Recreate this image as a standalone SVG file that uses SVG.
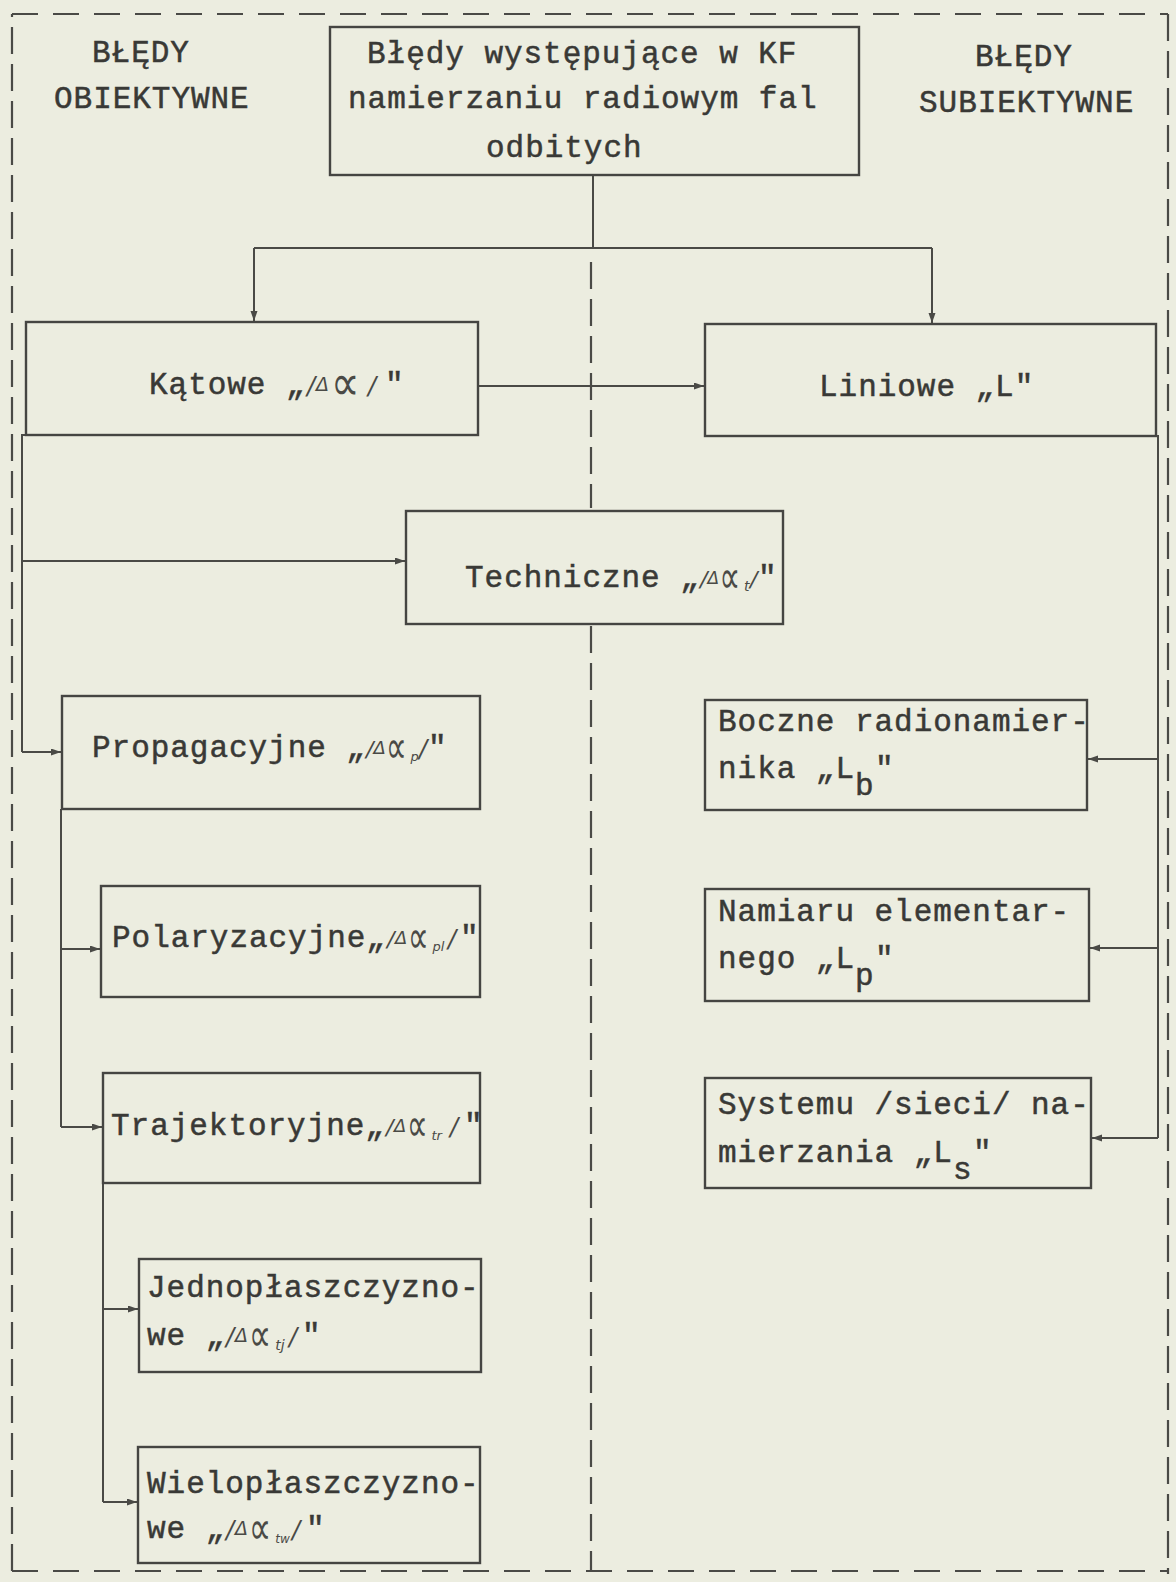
<svg xmlns="http://www.w3.org/2000/svg" width="1176" height="1582" viewBox="0 0 1176 1582">
<style>
.t{font-family:"Liberation Mono","Courier New",monospace;font-size:31px;letter-spacing:0.96px;fill:#393936;stroke:#393936;stroke-width:0.5}
.h{font-family:"DejaVu Sans",sans-serif;font-style:italic;fill:#4a4a46}
.box{fill:none;stroke:#454542;stroke-width:2.4}
.ln{fill:none;stroke:#4a4a46;stroke-width:2}
.arr{fill:none;stroke:#4a4a46;stroke-width:2;marker-end:url(#ah)}
.dv{fill:none;stroke:#4a4a46;stroke-width:2.2;stroke-dasharray:27 10}
.dh{fill:none;stroke:#4a4a46;stroke-width:2.2;stroke-dasharray:26 15}
</style>
<defs>
<marker id="ah" markerUnits="userSpaceOnUse" markerWidth="11" markerHeight="8" refX="10" refY="3.5" orient="auto">
<path d="M0,0 L10,3.5 L0,7 z" fill="#4a4a46"/>
</marker>
</defs>
<rect width="1176" height="1582" fill="#ecede0"/>

<g id="frame">
<path class="dv" d="M12,1571 V14"/>
<path class="dh" d="M12,14 H1168"/>
<path class="dv" d="M1168,14 V1574"/>
<path class="dh" d="M12,1571 H1168"/>
<path class="dv" d="M591,262 V508"/>
<path class="dv" d="M591,626 V1571"/>
</g>

<g id="labels">
<text class="t" x="92" y="62">BŁĘDY</text>
<text class="t" x="54" y="108">OBIEKTYWNE</text>
<text class="t" x="975" y="66">BŁĘDY</text>
<text class="t" x="919" y="112">SUBIEKTYWNE</text>
</g>

<g id="connectors">
<path class="ln" d="M593,175 V248"/>
<path class="ln" d="M254,248 H932"/>
<path class="arr" d="M254,248 V321"/>
<path class="arr" d="M932,248 V323"/>
<path class="arr" d="M478,386 H704"/>
<path class="ln" d="M26,435 H22 V752"/>
<path class="arr" d="M22,561 H405"/>
<path class="arr" d="M22,752 H61"/>
<path class="ln" d="M61,809 V1127"/>
<path class="arr" d="M61,949 H100"/>
<path class="arr" d="M61,1127 H102"/>
<path class="ln" d="M103,1183 V1502"/>
<path class="arr" d="M103,1309 H138"/>
<path class="arr" d="M103,1502 H137"/>
<path class="ln" d="M1156,436 H1158 V1138"/>
<path class="arr" d="M1158,759 H1088"/>
<path class="arr" d="M1158,948 H1090"/>
<path class="arr" d="M1158,1138 H1092"/>
</g>

<g id="n-top">
<rect class="box" x="330" y="27" width="529" height="148"/>
<text class="t" x="367" y="63">Błędy występujące w KF</text>
<text class="t" x="348" y="108">namierzaniu radiowym fal</text>
<text class="t" x="486" y="157">odbitych</text>
</g>

<g id="n-katowe">
<rect class="box" x="26" y="322" width="452" height="113"/>
<text class="t" x="149" y="394">Kątowe „</text>
<text class="h" x="307" y="394" font-size="24">/</text>
<text class="h" x="316" y="391" font-size="19">Δ</text>
<text class="h" font-size="40" transform="translate(331,399.5) scale(1,1.25)">∝</text>
<text class="h" x="368" y="394" font-size="24">/</text>
<text class="t" x="385" y="394">"</text>
</g>

<g id="n-liniowe">
<rect class="box" x="705" y="324" width="451" height="112"/>
<text class="t" x="819" y="396">Liniowe „L"</text>
</g>

<g id="n-techniczne">
<rect class="box" x="406" y="511" width="377" height="113"/>
<text class="t" x="465" y="587">Techniczne „</text>
<text class="h" x="700" y="587" font-size="22">/</text>
<text class="h" x="707.5" y="584" font-size="17">Δ</text>
<text class="h" font-size="29" transform="translate(719.5,592.8) scale(1,1.6)">∝</text>
<text class="h" x="744" y="591" font-size="14">t</text>
<text class="h" x="750" y="587" font-size="22">/</text>
<text class="t" x="758" y="587">"</text>
</g>

<g id="n-propagacyjne">
<rect class="box" x="62" y="696" width="418" height="113"/>
<text class="t" x="92" y="757">Propagacyjne „</text>
<text class="h" x="366" y="757" font-size="22">/</text>
<text class="h" x="373.5" y="754" font-size="18">Δ</text>
<text class="h" font-size="29" transform="translate(386,762.8) scale(1,1.6)">∝</text>
<text class="h" x="410.5" y="761" font-size="13">p</text>
<text class="h" x="419" y="757" font-size="24">/</text>
<text class="t" x="428" y="757">"</text>
</g>

<g id="n-polaryzacyjne">
<rect class="box" x="101" y="886" width="379" height="111"/>
<text class="t" x="112" y="947">Polaryzacyjne„</text>
<text class="h" x="387" y="947" font-size="22">/</text>
<text class="h" x="395" y="944" font-size="18">Δ</text>
<text class="h" font-size="29" transform="translate(408,952.8) scale(1,1.6)">∝</text>
<text class="h" x="432.5" y="951" font-size="13">pl</text>
<text class="h" x="448" y="947" font-size="24">/</text>
<text class="t" x="460" y="947">"</text>
</g>

<g id="n-trajektoryjne">
<rect class="box" x="103" y="1073" width="377" height="110"/>
<text class="t" x="111" y="1135">Trajektoryjne„</text>
<text class="h" x="386" y="1135" font-size="22">/</text>
<text class="h" x="394" y="1132" font-size="18">Δ</text>
<text class="h" font-size="29" transform="translate(407,1140.8) scale(1,1.6)">∝</text>
<text class="h" x="431.5" y="1140" font-size="13">tr</text>
<text class="h" x="450" y="1135" font-size="24">/</text>
<text class="t" x="464" y="1135">"</text>
</g>

<g id="n-jedno">
<rect class="box" x="139" y="1259" width="342" height="113"/>
<text class="t" x="147" y="1297">Jednopłaszczyzno-</text>
<text class="t" x="147" y="1345">we „</text>
<text class="h" x="226" y="1345" font-size="24">/</text>
<text class="h" x="235" y="1342" font-size="19">Δ</text>
<text class="h" font-size="31" transform="translate(249,1350.8) scale(1,1.5)">∝</text>
<text class="h" x="275.2" y="1350" font-size="14">tj</text>
<text class="h" x="289" y="1345" font-size="24">/</text>
<text class="t" x="302" y="1345">"</text>
</g>

<g id="n-wielo">
<rect class="box" x="138" y="1447" width="342" height="116"/>
<text class="t" x="147" y="1493">Wielopłaszczyzno-</text>
<text class="t" x="147" y="1538">we „</text>
<text class="h" x="226" y="1538" font-size="24">/</text>
<text class="h" x="235" y="1535" font-size="19">Δ</text>
<text class="h" font-size="31" transform="translate(249,1543.8) scale(1,1.5)">∝</text>
<text class="h" x="275.2" y="1543" font-size="12">tw</text>
<text class="h" x="292" y="1538" font-size="24">/</text>
<text class="t" x="306" y="1538">"</text>
</g>

<g id="n-boczne">
<rect class="box" x="705" y="700" width="382" height="110"/>
<text class="t" x="718" y="731">Boczne radionamier-</text>
<text class="t" y="778"><tspan x="718">nika „L</tspan><tspan x="855" y="795">b</tspan><tspan x="875" y="778">"</tspan></text>
</g>

<g id="n-namiaru">
<rect class="box" x="705" y="889" width="384" height="112"/>
<text class="t" x="718" y="921">Namiaru elementar-</text>
<text class="t" y="968"><tspan x="718">nego „L</tspan><tspan x="855" y="985">p</tspan><tspan x="875" y="968">"</tspan></text>
</g>

<g id="n-systemu">
<rect class="box" x="705" y="1078" width="386" height="110"/>
<text class="t" x="718" y="1114">Systemu /sieci/ na-</text>
<text class="t" y="1162"><tspan x="718">mierzania „L</tspan><tspan x="953" y="1179">s</tspan><tspan x="973" y="1162">"</tspan></text>
</g>
</svg>
